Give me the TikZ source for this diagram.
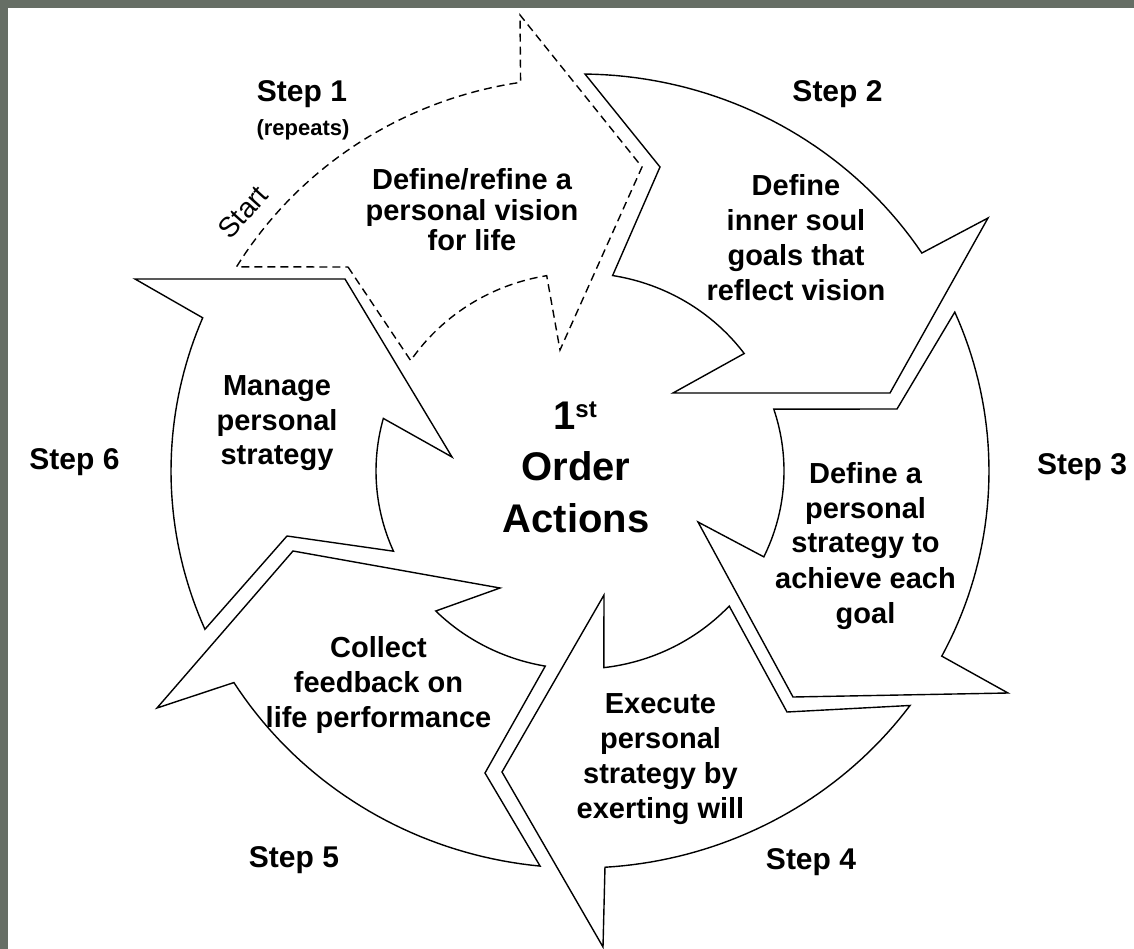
\documentclass[tikz,border=0pt]{standalone}
\usepackage{fontspec}
\setmainfont{Liberation Sans}
\definecolor{framegrey}{RGB}{102,110,101}
\begin{document}
\begin{tikzpicture}[x=1pt,y=-1pt,
  arrowshape/.style={draw=black, line width=1.4pt, fill=white, line join=miter},
  dashedshape/.style={arrowshape, dash pattern=on 8pt off 5pt},
  body/.style={font=\bfseries\fontsize{29}{35}\selectfont, anchor=base, inner sep=0pt},
  steplbl/.style={font=\bfseries\fontsize{30}{36}\selectfont, anchor=base, inner sep=0pt},
  centertxt/.style={font=\bfseries\fontsize{40}{50}\selectfont, anchor=base, inner sep=0pt}]
\useasboundingbox (0,0) rectangle (1134,949);
\fill[white] (0,0) rectangle (1134,949);
\fill[framegrey] (0,0) rectangle (1134,8.5);
\fill[framegrey] (0,0) rectangle (8,949);

% Step 1 (dashed)
\draw[dashedshape] (348,267)
  -- plot[domain=-146.1:-99.4, samples=40] ({580+204*cos(\x)},{471+198*sin(\x)})
  -- (560,350) -- (642,167) -- (520,15)
  -- plot[domain=-98.5:-148.7, samples=40] ({580+402*cos(\x)},{471+393*sin(\x)})
  -- cycle;
% Step 2
\draw[arrowshape] (660,167)
  -- plot[domain=-80.8:-36.4, samples=40] ({580+204*cos(\x)},{471+198*sin(\x)})
  -- (673,393) -- (890,393) -- (988,218)
  -- plot[domain=-33.3:-89.3, samples=40] ({580+409*cos(\x)},{471+397*sin(\x)})
  -- cycle;
% Step 3
\draw[arrowshape] (897,409)
  -- plot[domain=-18.2:25.7, samples=40] ({580+204*cos(\x)},{471+198*sin(\x)})
  -- (698,522) -- (793,697) -- (1008,693)
  -- plot[domain=27.8:-23.6, samples=40] ({580+409*cos(\x)},{471+397*sin(\x)})
  -- cycle;
% Step 4
\draw[arrowshape] (787,712)
  -- plot[domain=43.0:83.3, samples=40] ({580+204*cos(\x)},{471+198*sin(\x)})
  -- (604,595) -- (502,772) -- (603,947)
  -- plot[domain=86.5:36.2, samples=40] ({580+409*cos(\x)},{471+397*sin(\x)})
  -- cycle;
% Step 5
\draw[arrowshape] (485,773)
  -- plot[domain=99.8:135.0, samples=40] ({580+204*cos(\x)},{471+198*sin(\x)})
  -- (500,588) -- (293,551) -- (157,708)
  -- plot[domain=147.8:95.6, samples=40] ({580+409*cos(\x)},{471+397*sin(\x)})
  -- cycle;
% Step 6
\draw[arrowshape] (287,536)
  -- plot[domain=156.1:195.4, samples=40] ({580+204*cos(\x)},{471+198*sin(\x)})
  -- (452,457) -- (345,279) -- (135,279)
  -- plot[domain=202.7:156.5, samples=40] ({580+409*cos(\x)},{471+397*sin(\x)})
  -- cycle;

% texts in the arrows
\node[body] (t1a) at (472,190) {Define/refine a};
\node[body] (t1b) at (472,221) {personal vision};
\node[body] (t1c) at (472,251) {for life};

\node[body] (t2a) at (796,196) {Define};
\node[body] (t2b) at (796,231) {inner soul};
\node[body] (t2c) at (796,266) {goals that};
\node[body] (t2d) at (796,301) {reflect vision};

\node[body] (t3a) at (865.5,483) {Define a};
\node[body] (t3b) at (865.5,518) {personal};
\node[body] (t3c) at (865.5,552) {strategy to};
\node[body] (t3d) at (865.5,588) {achieve each};
\node[body] (t3e) at (865.5,623) {goal};

\node[body] (t4a) at (660.5,713) {Execute};
\node[body] (t4b) at (660.5,748) {personal};
\node[body] (t4c) at (660.5,783) {strategy by};
\node[body] (t4d) at (660.5,818) {exerting will};

\node[body] (t5a) at (378.5,657) {Collect};
\node[body] (t5b) at (378.5,692) {feedback on};
\node[body] (t5c) at (378.5,727) {life performance};

\node[body] (t6a) at (277,395) {Manage};
\node[body] (t6b) at (277,430) {personal};
\node[body] (t6c) at (277,464) {strategy};

% centre
\node[centertxt] (c1) at (575,429) {1\raisebox{12pt}{\fontsize{24}{24}\selectfont st}};
\node[centertxt] (c2) at (576,480) {Order};
\node[centertxt] (c3) at (576,532) {Actions};

% step labels
\node[steplbl] (s1) at (302,102) {Step 1};
\node[font=\bfseries\fontsize{22}{26}\selectfont, anchor=base, inner sep=0pt] (rep) at (303,136) {(repeats)};
\node[steplbl] (s2) at (837.5,102) {Step 2};
\node[steplbl] (s3) at (1082,474) {Step 3};
\node[steplbl] (s4) at (811,869) {Step 4};
\node[steplbl] (s5) at (294,867) {Step 5};
\node[steplbl] (s6) at (74.5,469) {Step 6};
\node[font=\fontsize{28}{28}\selectfont, rotate=48, inner sep=0pt] (start) at (243,212) {Start};
\end{tikzpicture}
\end{document}
